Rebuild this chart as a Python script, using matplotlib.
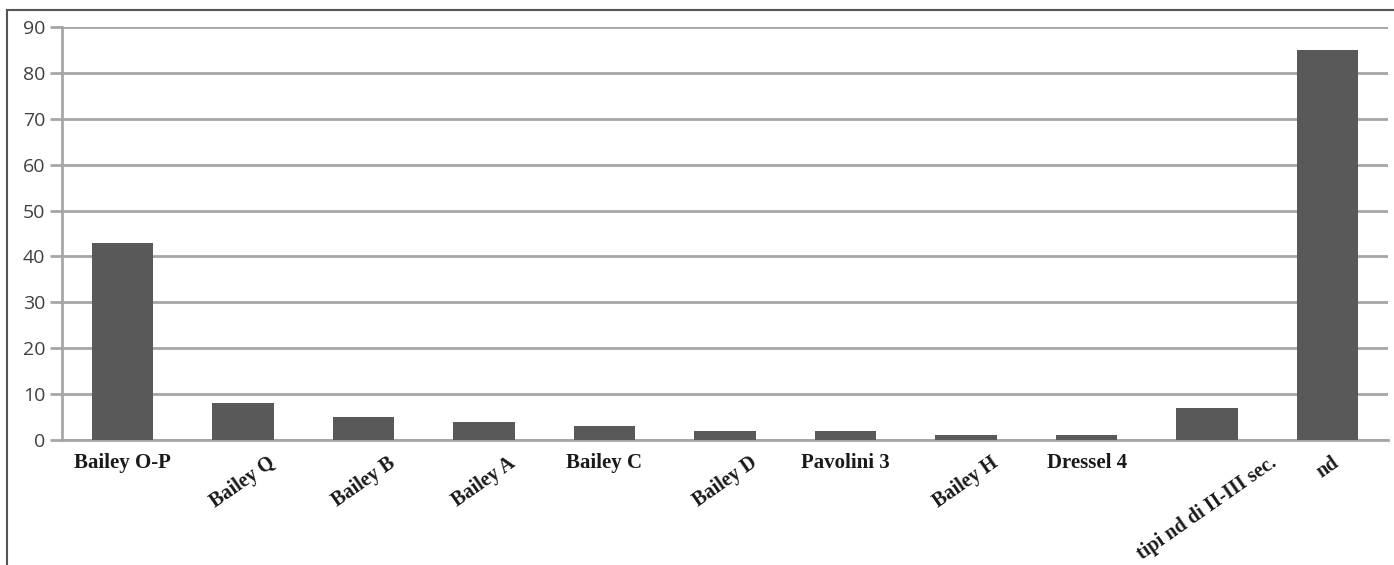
import matplotlib
matplotlib.use('Agg')
import matplotlib.pyplot as plt
from matplotlib.lines import Line2D

# categories and counts
categories = ['Bailey O-P', 'Bailey Q', 'Bailey B', 'Bailey A', 'Bailey C',
              'Bailey D', 'Pavolini 3', 'Bailey H', 'Dressel 4',
              'tipi nd di II-III sec.', 'nd']
counts = [43, 8, 5, 4, 3, 2, 2, 1, 1, 7, 85]
# which labels are drawn slanted in the original
slanted = [0, 1, 1, 1, 0, 1, 0, 1, 0, 1, 1]
yticks = list(range(0, 91, 10))

fig = plt.figure(figsize=(13.94, 5.65), dpi=100)
ax = fig.add_axes([62/1394, 1-440/565, 1326/1394, 413/565])

grid_col = '#a6a6a6'
ax.bar(range(len(categories)), counts, width=0.51, color='#595959', zorder=3)

ax.set_xlim(-0.5, len(categories) - 0.5)
ax.set_ylim(0, 90)
ax.set_yticks(yticks)
ax.set_yticklabels([str(v) for v in yticks], fontsize=14, color='#404040',
                   family='Open Sans')
ax.yaxis.grid(True, color=grid_col, linewidth=2, zorder=0)
ax.tick_params(axis='y', length=9, width=2, color=grid_col, pad=3)
ax.tick_params(axis='x', length=0)
ax.set_xticks([])

for s in ['top', 'right']:
    ax.spines[s].set_visible(False)
ax.spines['left'].set_color(grid_col)
ax.spines['left'].set_linewidth(2)
ax.spines['bottom'].set_color(grid_col)
ax.spines['bottom'].set_linewidth(2)

# category labels, some horizontal, some slanted
for i, (lab, sl) in enumerate(zip(categories, slanted)):
    ax.annotate(lab, xy=(i, 0), xycoords=('data', 'axes fraction'),
                xytext=(0, -13), textcoords='offset pixels',
                ha='center', va='top', rotation=35 if sl else 0,
                fontsize=15 if not sl else 14.5, fontweight='bold',
                family='Liberation Serif', color='#1a1a1a')

# outer frame around the chart area (left and top edges visible)
fig.add_artist(Line2D([7/1394, 7/1394], [0, 1-10/565], color='#555555',
                      linewidth=1.5, transform=fig.transFigure))
fig.add_artist(Line2D([7/1394, 1], [1-10/565, 1-10/565], color='#555555',
                      linewidth=1.5, transform=fig.transFigure))

fig.savefig('out.png', dpi=100)
